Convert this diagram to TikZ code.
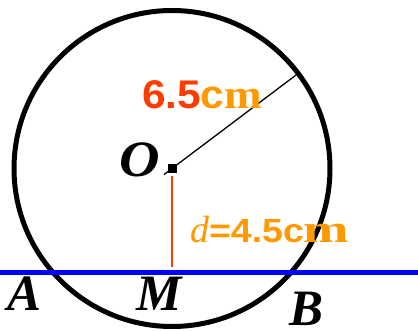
\documentclass[tikz,border=0pt]{standalone}
\usepackage{fontspec}
\setmainfont{Liberation Serif}
\newfontfamily\sansf{Liberation Sans}
\usetikzlibrary{calc}
\definecolor{redo}{HTML}{FF3C00}
\definecolor{orng}{HTML}{FF9900}
\tikzset{
  lbl/.style={anchor=base west, inner sep=0pt, outer sep=0pt},
  pointlbl/.style={lbl, font=\fontsize{51}{51}\selectfont\bfseries\itshape},
}
\begin{document}
\begin{tikzpicture}[x=1pt,y=-1pt]
\useasboundingbox (0,0) rectangle (418,331);
\coordinate (O) at (172,168.5);
\coordinate (L) at (0,272.5);
\coordinate (R) at (418,272.5);
\coordinate (Mf) at (172,267);
\coordinate (P) at ($(O)+(37:158pt)$);
\coordinate (Q) at ($(O)+(217:10pt)$);
% circle
\draw[line width=5pt] (O) circle (158pt);
% radius
\draw[line width=1.3pt] (Q) -- (P);
% distance
\node[fill=black, minimum size=9pt, inner sep=0pt] (sq) at (O) {};
\draw[redo, line width=1.5pt] ($(O)+(0,8)$) coordinate (Ot) -- (Mf);
% line
\draw[blue, line width=5.5pt] (L) -- (R);
% labels
\node[lbl, font=\bfseries] (rlab) at (142,109)
  {\scalebox{1.06}[1]{\fontsize{40}{40}\selectfont\sansf\color{redo}6.5\color{orng}c}%
   \scalebox{1.1}[1]{\fontsize{41}{41}\selectfont\color{orng}m}};
\node[lbl, font=\fontsize{51}{51}\selectfont\bfseries\itshape] (Olab) at (119,177) {\scalebox{1.1}[1]{O}};
\node[lbl, font=\bfseries, text=orng] (dlab) at (190,243)
  {{\fontsize{38}{38}\selectfont\mdseries\itshape d}%
   \scalebox{1.12}[1]{\fontsize{33.5}{33.5}\selectfont\sansf =4.5c}%
   \scalebox{1.4}[1]{\fontsize{39}{39}\selectfont m}};
\node[pointlbl] (A) at (7,311) {A};
\node[pointlbl] (M) at (136,311) {M};
\node[pointlbl] (B) at (289,326) {B};
\end{tikzpicture}
\end{document}
